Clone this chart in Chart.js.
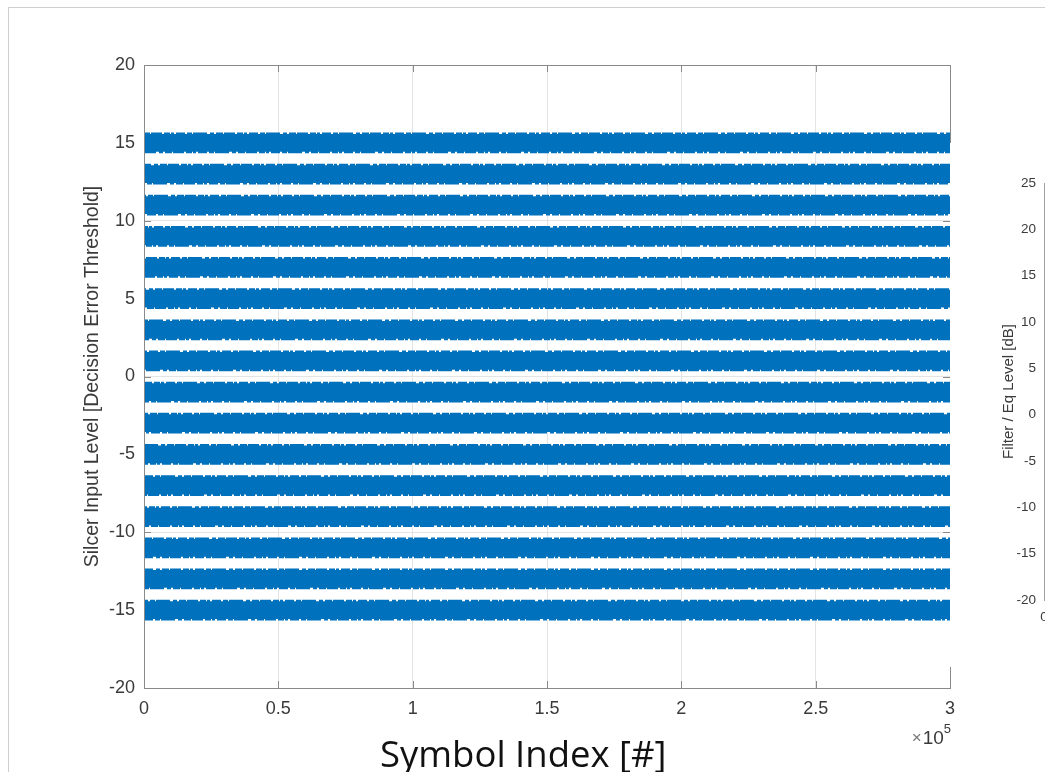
<!DOCTYPE html>
<html>
<head>
<meta charset="utf-8">
<script src="https://cdn.jsdelivr.net/npm/chart.js@4.4.1/dist/chart.umd.min.js"></script>
<style>
  body { margin: 0; background: #fff; overflow: hidden; width: 1045px; height: 772px; position: relative; }
  #frame { position: absolute; left: 8px; top: 7px; right: 0; bottom: 0; border-left: 1px solid #cfcfcf; border-top: 1px solid #cfcfcf; }
  #main { position: absolute; left: 0; top: 0; }
  #side { position: absolute; left: 950px; top: 143px; background: #fff; }
</style>
</head>
<body>
<div id="frame"></div>
<canvas id="main" width="1045" height="772"></canvas>
<canvas id="side" width="300" height="524"></canvas>
<script>
// decision levels of the slicer input (odd PAM-16 levels)
const levels = [-15, -13, -11, -9, -7, -5, -3, -1, 1, 3, 5, 7, 9, 11, 13, 15];
// spread of the solid noise cloud around every level
const spread = 0.57;
// symbol range
const symbolStart = 0;
const symbolEnd = 300000;

// side chart (cut off at the window edge)
const eqX = [0, 0];
const eqPurple = [12.5, 1.6];
const eqRed = [1.9, 1.0];
const eqOrange = [1.0, -20];

const blue = "#0072BD";
const axisGray = "#8a8a8a";
const tickText = "#3a3a3a";

// box + inward ticks like matlab axes
const boxTicks = {
  id: "boxTicks",
  beforeDatasetsDraw(chart, args, opts) {
    const { ctx, chartArea: a, scales: { x, y } } = chart;
    ctx.save();
    ctx.strokeStyle = opts.color;
    ctx.lineWidth = 1;
    ctx.beginPath();
    x.ticks.forEach(t => {
      const px = Math.round(x.getPixelForValue(t.value)) + 0.5;
      ctx.moveTo(px, a.bottom);
      ctx.lineTo(px, a.bottom - opts.len);
      ctx.moveTo(px, a.top);
      ctx.lineTo(px, a.top + opts.len);
    });
    y.ticks.forEach(t => {
      const py = Math.round(y.getPixelForValue(t.value)) + 0.5;
      ctx.moveTo(a.left, py);
      ctx.lineTo(a.left + opts.len, py);
      ctx.moveTo(a.right, py);
      ctx.lineTo(a.right - opts.len, py);
    });
    ctx.stroke();
    ctx.restore();
  },
  afterDatasetsDraw(chart, args, opts) {
    const { ctx, chartArea: a } = chart;
    ctx.save();
    ctx.strokeStyle = opts.color;
    ctx.lineWidth = 1;
    ctx.strokeRect(Math.round(a.left) + 0.5, Math.round(a.top) + 0.5,
      Math.round(a.right - a.left), Math.round(a.bottom - a.top));
    ctx.restore();
  }
};

// the "x10^5" exponent under the x axis
const exponent = {
  id: "exponent",
  afterDraw(chart) {
    const { ctx, chartArea: a } = chart;
    ctx.save();
    ctx.fillStyle = tickText;
    ctx.textBaseline = "alphabetic";
    ctx.textAlign = "right";
    ctx.font = "13px 'Liberation Sans'";
    ctx.fillText("5", a.right + 1, a.bottom + 45);
    const w5 = ctx.measureText("5").width;
    ctx.font = "19px 'Liberation Sans'";
    ctx.fillText("10", a.right + 1 - w5, a.bottom + 56);
    const w10 = ctx.measureText("10").width;
    ctx.fillStyle = "#777";
    ctx.font = "17px 'Liberation Sans'";
    ctx.fillText("\u00d7", a.right - w5 - w10, a.bottom + 55);
    ctx.restore();
  }
};

// ragged edge of the noise cloud
const edgeDash = [9, 2, 5, 1, 14, 3, 4, 2, 7, 1, 11, 2, 6, 1, 3, 2];

const bandSets = [];
levels.forEach((l, i) => {
  bandSets.push({
    data: [{ x: symbolStart, y: l - spread }, { x: symbolEnd, y: l - spread }],
    borderColor: blue,
    borderWidth: 3,
    borderDash: edgeDash,
    borderDashOffset: i * 11,
    pointRadius: 0,
    fill: false
  });
  bandSets.push({
    data: [{ x: symbolStart, y: l + spread }, { x: symbolEnd, y: l + spread }],
    borderColor: blue,
    borderWidth: 3,
    borderDash: edgeDash,
    borderDashOffset: i * 17 + 5,
    pointRadius: 0,
    backgroundColor: blue,
    fill: "-1"
  });
});

new Chart(document.getElementById("main"), {
  type: "line",
  data: { datasets: bandSets },
  plugins: [boxTicks, exponent],
  options: {
    responsive: false,
    animation: false,
    devicePixelRatio: 1,
    layout: { padding: { top: 65, right: 95, left: 0, bottom: 0 } },
    plugins: {
      legend: { display: false },
      tooltip: { enabled: false },
      boxTicks: { color: axisGray, len: 7 }
    },
    scales: {
      x: {
        type: "linear",
        min: symbolStart,
        max: symbolEnd,
        afterFit: s => { s.height = 84; },
        ticks: {
          stepSize: 50000,
          padding: 10,
          color: tickText,
          font: { family: "'Liberation Sans'", size: 18 },
          maxRotation: 0,
          callback: v => String(v / 1e5)
        },
        grid: { color: "#e4e4e4", drawTicks: false },
        border: { display: false },
        title: {
          display: true,
          text: "Symbol Index [#]     ",
          color: "#111",
          font: { family: "'Open Sans'", size: 36.5, lineHeight: 1 },
          padding: { top: 0, bottom: -3 }
        }
      },
      y: {
        min: -20,
        max: 20,
        afterFit: s => { s.width = 144; },
        ticks: {
          stepSize: 5,
          padding: 9,
          color: tickText,
          font: { family: "'Liberation Sans'", size: 18 }
        },
        grid: { color: "#e4e4e4", drawTicks: false },
        border: { display: false },
        title: {
          display: true,
          text: "Silcer Input Level [Decision Error Threshold]",
          color: tickText,
          font: { family: "'Liberation Sans'", size: 19.5, lineHeight: 1.2 },
          padding: { top: 81, bottom: 0 }
        }
      }
    }
  }
});

const pts = ys => eqX.map((x, i) => ({ x: x, y: ys[i] }));

new Chart(document.getElementById("side"), {
  type: "line",
  data: {
    datasets: [
      { data: pts(eqPurple), borderColor: "#b98ac9", borderWidth: 3, pointRadius: 0 },
      { data: pts(eqRed), borderColor: "#d06060", borderWidth: 3, pointRadius: 0 },
      { data: pts(eqOrange), borderColor: "#ead29a", borderWidth: 3, pointRadius: 0 }
    ]
  },
  plugins: [boxTicks],
  options: {
    responsive: false,
    animation: false,
    devicePixelRatio: 1,
    layout: { padding: { top: 40, right: 0, left: 0, bottom: 0 } },
    plugins: {
      legend: { display: false },
      tooltip: { enabled: false },
      boxTicks: { color: "#a0a0a0", len: 4 }
    },
    scales: {
      x: {
        type: "linear",
        min: 0,
        max: 1,
        afterFit: s => { s.height = 67; },
        ticks: {
          stepSize: 0.2,
          padding: 9,
          color: tickText,
          font: { family: "'Liberation Sans'", size: 13.5 },
          maxRotation: 0
        },
        grid: { display: false, drawTicks: false },
        border: { display: false }
      },
      y: {
        min: -20,
        max: 25,
        afterFit: s => { s.width = 94; },
        ticks: {
          stepSize: 5,
          padding: 8,
          color: tickText,
          font: { family: "'Liberation Sans'", size: 13.5 }
        },
        grid: { display: false, drawTicks: false },
        border: { display: false },
        title: {
          display: true,
          text: "Filter / Eq Level [dB]",
          color: tickText,
          font: { family: "'Liberation Sans'", size: 15, lineHeight: 1.2 },
          padding: { top: 50, bottom: 0 }
        }
      }
    }
  }
});
</script>
</body>
</html>
